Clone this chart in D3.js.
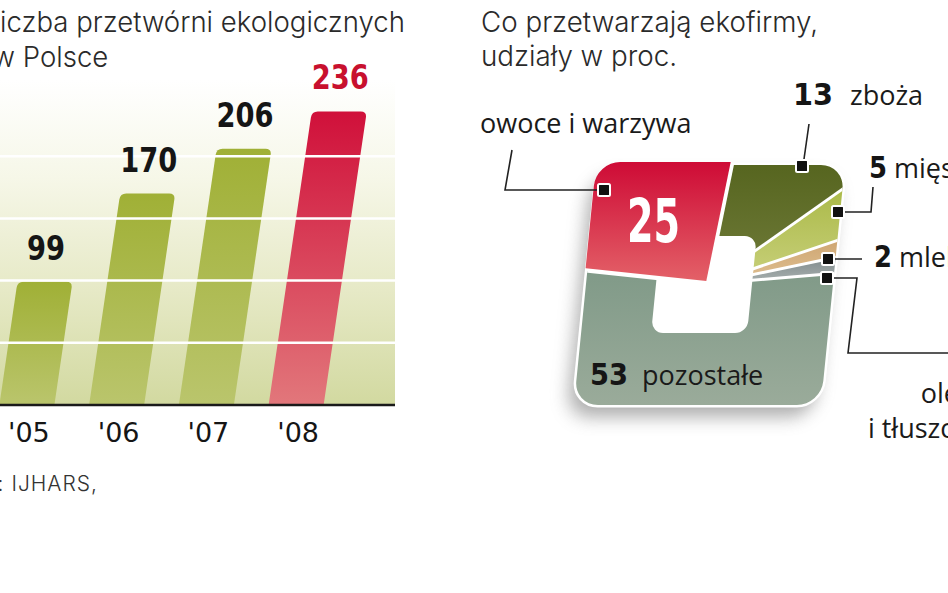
<!DOCTYPE html>
<html><head><meta charset="utf-8">
<script src="https://cdn.jsdelivr.net/npm/d3@7"></script>
<style>html,body{margin:0;padding:0;background:#fff;overflow:hidden}</style>
</head><body>
<svg id="c" width="948" height="593" xmlns="http://www.w3.org/2000/svg"></svg>
<script>
// ---------- DATA ----------
const years = ["'05", "'06", "'07", "'08"];
const counts = [99, 170, 206, 236];
const yTicks = [50, 100, 150, 200];
const shareLabels = ["zboża", "mięso", "mleko", "oleje i tłuszcze", "pozostałe", "owoce i warzywa"];
const shareValues = [13, 5, 2, 2, 53, 25];

// ---------- STYLE / LAYOUT ----------
const titleFont = "Inter, 'Open Sans', 'DejaVu Sans', sans-serif";
const numFont = "'DejaVu Sans Condensed', 'DejaVu Sans', sans-serif";
const sliceColors = [
  ["#56651f", "#7a8444", -120, 40],
  ["#a6b640", "#c3cc72", -110, -20],
  ["#c89c66", "#dcbb8c", -60, -10],
  ["#6c787b", "#aab2b1", -40, 0],
  ["#7f9987", "#9aab9a", -20, 120],
  ["#ce0a35", "#e5686c", -120, 10]
];

const svg = d3.select("#c");
const defs = svg.append("defs");

function linGrad(id, stops, attrs) {
  const g = defs.append("linearGradient").attr("id", id);
  Object.entries(attrs).forEach(([k, v]) => g.attr(k, v));
  stops.forEach(([o, c]) => g.append("stop").attr("offset", o).attr("stop-color", c));
  return g;
}

// ---------- BAR CHART ----------
const baseY = 405, plotLeft = -10, plotRight = 395, slope = 0.147, rTop = 6;
const x = d3.scaleBand().domain(years).range([-18, 341]).paddingInner(0.387).paddingOuter(0.1935);
const y = d3.scaleLinear().domain([0, 250]).range([baseY, 94]);

linGrad("bgGrad", [[0, "#ffffff"], [0.3, "#f6f7e8"], [0.65, "#e6e9c6"], [1, "#d2d9a0"]],
  {x1: 0, y1: 0, x2: 0, y2: 1});
linGrad("greenBar", [[0, "#a0b036"], [1, "#bac56c"]], {x1: 0, y1: 0, x2: 0, y2: 1});
linGrad("redBar", [[0, "#d0103a"], [1, "#e2777b"]], {x1: 0, y1: 0, x2: 0, y2: 1});

svg.append("rect").attr("x", plotLeft).attr("y", 80)
  .attr("width", plotRight - plotLeft).attr("height", baseY - 80)
  .attr("fill", "url(#bgGrad)");

function barPath(xl, yb, yt, w) {
  const dx = slope * (yb - yt);
  const p = d3.path();
  p.moveTo(xl, yb);
  p.lineTo(xl + slope * (yb - yt - rTop), yt + rTop);
  p.quadraticCurveTo(xl + dx, yt, xl + dx + rTop, yt);
  p.lineTo(xl + dx + w - rTop, yt);
  p.quadraticCurveTo(xl + dx + w, yt, xl + w + slope * (yb - yt - rTop), yt + rTop);
  p.lineTo(xl + w, yb);
  p.closePath();
  return p.toString();
}

const last = years.length - 1;
svg.append("g").selectAll("path").data(counts).join("path")
  .attr("d", (d, i) => barPath(x(years[i]), baseY, y(d), x.bandwidth()))
  .attr("fill", (d, i) => i === last ? "url(#redBar)" : "url(#greenBar)");

// gridlines over bars
svg.append("g").selectAll("line").data(yTicks).join("line")
  .attr("x1", plotLeft).attr("x2", plotRight)
  .attr("y1", d => y(d)).attr("y2", d => y(d))
  .attr("stroke", "#ffffff").attr("stroke-width", 2.5);

// value labels
svg.append("g").selectAll("text").data(counts).join("text")
  .attr("x", (d, i) => x(years[i]) + slope * (baseY - y(d)) + x.bandwidth() / 2 + 1)
  .attr("y", d => y(d) - 22)
  .attr("text-anchor", "middle")
  .attr("font-family", numFont).attr("font-weight", "bold").attr("font-size", 34)
  .attr("textLength", d => String(d).length * 19)
  .attr("lengthAdjust", "spacingAndGlyphs")
  .attr("fill", (d, i) => i === last ? "#c8102e" : "#151515")
  .text(d => d);

// baseline
svg.append("line").attr("x1", plotLeft).attr("x2", plotRight)
  .attr("y1", baseY).attr("y2", baseY)
  .attr("stroke", "#1a1a1a").attr("stroke-width", 2.5);

// x axis
const ax = svg.append("g").attr("transform", `translate(2,${baseY})`)
  .call(d3.axisBottom(x).tickSize(0).tickPadding(0));
ax.select(".domain").remove();
ax.selectAll("text").attr("dy", null).attr("y", 37)
  .attr("font-family", "'DejaVu Sans', sans-serif").attr("font-size", 27)
  .attr("fill", "#151515");

// source
svg.append("text").attr("x", 98).attr("y", 491).attr("text-anchor", "end")
  .attr("font-family", titleFont).attr("font-weight", 300).attr("font-size", 21)
  .attr("letter-spacing", 1).attr("fill", "#333")
  .text("Źródło: IJHARS,");

// ---------- TITLES ----------
function measure(str, size, weight) {
  const t = svg.append("text").attr("font-family", titleFont).attr("font-size", size)
    .attr("font-weight", weight).text(str);
  const w = t.node().getComputedTextLength();
  t.remove();
  return w;
}
function title(str, xPos, yPos, len) {
  return svg.append("text").attr("x", xPos).attr("y", yPos)
    .attr("font-family", titleFont).attr("font-weight", 300).attr("font-size", 28)
    .attr("fill", "#2a2a2a").attr("textLength", len).attr("lengthAdjust", "spacingAndGlyphs")
    .text(str);
}
{
  const l1 = "Liczba przetwórni ekologicznych";
  const wF = measure(l1, 28, 300), wL = measure("L", 28, 300);
  const sc = 405 / (wF - wL);
  title(l1, -wL * sc, 32, wF * sc);
  const l2 = "w Polsce";
  const w2 = measure(l2, 28, 300), wW = measure("w ", 28, 300);
  title(l2, 15 - wW * sc, 67, w2 * sc);

  const r1 = "Co przetwarzają ekofirmy,", r2 = "udziały w proc.";
  const wr1 = measure(r1, 28, 300), wr2 = measure(r2, 28, 300);
  const sr = 337 / wr1;
  title(r1, 481, 32, wr1 * sr);
  title(r2, 481, 66, wr2 * sr);
}

// ---------- SQUARE PIE ----------
const outer = {x: -122, y: -119, w: 247, h: 240, r: 24};
const hole = {x: -52, y: -48, w: 96, h: 97, r: 12};
const angleOffset = 6 * Math.PI / 180;

const pie = d3.pie().sort(null).value(d => d)
  .startAngle(angleOffset).endAngle(angleOffset + 2 * Math.PI);
const arcs = pie(shareValues);
const arcGen = d3.arc().innerRadius(0).outerRadius(400);

sliceColors.forEach((c, i) => linGrad("sl" + i, [[0, c[0]], [1, c[1]]],
  {gradientUnits: "userSpaceOnUse", x1: 0, y1: c[2], x2: 0, y2: c[3]}));

defs.append("clipPath").attr("id", "outerClip").append("rect")
  .attr("x", outer.x).attr("y", outer.y).attr("width", outer.w).attr("height", outer.h).attr("rx", outer.r);
const blur = defs.append("filter").attr("id", "shadow").attr("x", "-30%").attr("y", "-30%")
  .attr("width", "160%").attr("height", "160%");
blur.append("feGaussianBlur").attr("stdDeviation", 9);

const pg = svg.append("g").attr("transform", "matrix(1,0,-0.1,1,708,284)");

pg.append("rect").attr("x", outer.x).attr("y", outer.y).attr("width", outer.w).attr("height", outer.h)
  .attr("rx", outer.r).attr("fill", "#6a6a6a").attr("opacity", 0.55)
  .attr("transform", "translate(-6,12)").attr("filter", "url(#shadow)");
pg.append("rect").attr("x", outer.x).attr("y", outer.y).attr("width", outer.w).attr("height", outer.h)
  .attr("rx", outer.r).attr("fill", "#fff").attr("stroke", "#fff").attr("stroke-width", 5);

const redIdx = shareValues.length - 1;
const sg = pg.append("g").attr("clip-path", "url(#outerClip)");
sg.selectAll("path").data(arcs.filter((a, i) => i !== redIdx)).join("path")
  .attr("d", arcGen).attr("fill", d => `url(#sl${d.index})`);
// separators
sg.selectAll("line").data(arcs).join("line")
  .attr("x1", 0).attr("y1", 0)
  .attr("x2", d => 400 * Math.sin(d.startAngle)).attr("y2", d => -400 * Math.cos(d.startAngle))
  .attr("stroke", "#fff").attr("stroke-width", 3);
// hole
pg.append("rect").attr("x", hole.x).attr("y", hole.y).attr("width", hole.w).attr("height", hole.h)
  .attr("rx", hole.r).attr("fill", "#fff");
// highlighted slice, pulled out
pg.append("g").attr("transform", "translate(-2,-3)").attr("clip-path", "url(#outerClip)")
  .append("path").datum(arcs[redIdx]).attr("d", arcGen).attr("fill", `url(#sl${redIdx})`);

// ---------- ANNOTATIONS ----------
const leaders = [
  {pts: [[809, 124], [803, 166]], m: [802, 166]},
  {pts: [[873, 187], [871, 212], [838, 212]], m: [838, 212]},
  {pts: [[862, 259], [828, 259]], m: [828, 259]},
  {pts: [[827, 278], [857, 278], [848, 353], [960, 353]], m: [827, 278]},
  null,
  {pts: [[512, 150], [505, 190], [604, 190]], m: [604, 190]}
];
const line = d3.line();
const ag = svg.append("g");
leaders.forEach(l => {
  if (!l) return;
  ag.append("path").attr("d", line(l.pts)).attr("fill", "none")
    .attr("stroke", "#222").attr("stroke-width", 1.6);
  ag.append("rect").attr("x", l.m[0] - 6).attr("y", l.m[1] - 6).attr("width", 12).attr("height", 12)
    .attr("rx", 1.5).attr("fill", "#111").attr("stroke", "#fff").attr("stroke-width", 2);
});

const labelFont = "'Open Sans', 'DejaVu Sans', sans-serif";
function num(v, xPos, yPos, size, w, fill) {
  svg.append("text").attr("x", xPos).attr("y", yPos)
    .attr("font-family", numFont).attr("font-weight", "bold").attr("font-size", size)
    .attr("textLength", w).attr("lengthAdjust", "spacingAndGlyphs")
    .attr("fill", fill).text(v);
}
function word(str, xPos, yPos, anchor) {
  svg.append("text").attr("x", xPos).attr("y", yPos).attr("text-anchor", anchor || "start")
    .attr("font-family", labelFont).attr("font-size", 27).attr("fill", "#1a1a1a").text(str);
}
// zboża
num(shareValues[0], 793, 105, 31, 40, "#151515"); word(shareLabels[0], 850, 105);
// mięso
num(shareValues[1], 869, 178, 31, 18, "#151515"); word(shareLabels[1], 894, 178);
// mleko
num(shareValues[2], 874, 267, 31, 18, "#151515"); word(shareLabels[2], 899, 267);
// oleje i tłuszcze
word("oleje", 981, 403, "end"); word("i tłuszcze", 981, 438, "end");
// pozostałe
num(shareValues[4], 590, 385, 31, 38, "#151515"); word(shareLabels[4], 642, 385);
// owoce i warzywa
num(shareValues[5], 627, 242, 60, 53, "#ffffff"); word(shareLabels[5], 480, 133);
</script>
</body></html>
